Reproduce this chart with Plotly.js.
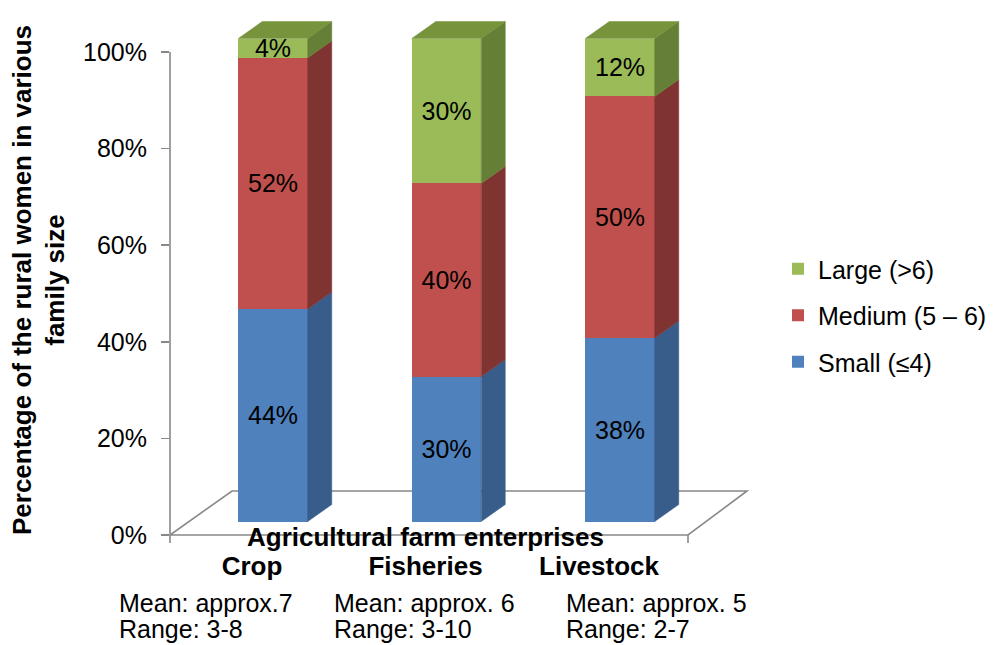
<!DOCTYPE html>
<html><head><meta charset="utf-8">
<script src="https://cdn.plot.ly/plotly-3.0.1.min.js"></script>
<style>html,body{margin:0;padding:0;background:#fff;} #chart{width:997px;height:645px;}</style>
</head><body><div id="chart"></div>
<script>
// ---- data ----
const categories = ['Crop', 'Fisheries', 'Livestock'];
const seriesNames = ['Small (≤4)', 'Medium (5 – 6)', 'Large (>6)'];
const small  = [44, 30, 38];
const medium = [52, 40, 50];
const large  = [4, 30, 12];
const meanLabels  = ['Mean: approx.7', 'Mean: approx. 6', 'Mean: approx. 5'];
const rangeLabels = ['Range: 3-8', 'Range: 3-10', 'Range: 2-7'];
const yTicks = [0, 20, 40, 60, 80, 100];
const xTitle = 'Agricultural farm enterprises';
const yTitle = 'Percentage of the rural women in various<br>family size';

// ---- geometry (pixels of the 997x645 canvas) ----
const W = 997, H = 645;
const PL = 170, PR = 755, PT = 15, PB = 545;
const xUnit = 173.5, cat0px = 273;
const pxPerPct = 4.83, front0px = 521.5, label0px = 535;
const xRange = [(PL - cat0px) / xUnit, (PR - cat0px) / xUnit];
const yRange = [(front0px - PB) / pxPerPct, (front0px - PT) / pxPerPct];
const y2Range = [(label0px - PB) / pxPerPct, (label0px - PT) / pxPerPct];
const barW = 69.5 / xUnit;
const dX = 24 / xUnit, dY = 17 / pxPerPct;
const pxX = p => (p - cat0px) / xUnit;       // canvas px -> x data
const pxY = p => (front0px - p) / pxPerPct;  // canvas px -> y data
const pxPaperX = p => (p - PL) / (PR - PL);
const pxPaperY = p => (PB - p) / (PB - PT);

const FONT = 'Liberation Sans, Arial, sans-serif';
const FS = 25;
const frontCol = ['#4F81BD', '#C0504D', '#9BBB59'];
const sideCol  = ['#385D8A', '#7F3432', '#657F36'];
const topCol   = '#77933C';
const gray = '#888888';
const legendRanks = [3, 2, 1];

const xs = categories.map((_, i) => i);
const seriesVals = [small, medium, large];

const traces = seriesVals.map((vals, k) => ({
  type: 'bar', x: xs, y: vals, width: barW, name: seriesNames[k],
  legendgroup: 'g' + k, legendrank: legendRanks[k],
  marker: {color: frontCol[k], line: {width: 0}},
  texttemplate: '%{y}%', textposition: 'inside', insidetextanchor: 'middle',
  constraintext: 'none', cliponaxis: false,
  textfont: {family: FONT, size: FS, color: '#000'},
  insidetextfont: {family: FONT, size: FS, color: '#000'},
  hoverinfo: 'skip'
}));

// side faces and top faces (3D look), derived from the data
xs.forEach(i => {
  let cum = 0;
  const xr = i + barW / 2, xl = i - barW / 2;
  seriesVals.forEach((vals, k) => {
    const b = cum, t = cum + vals[i];
    cum = t;
    traces.push({
      type: 'scatter', mode: 'lines', fill: 'toself', showlegend: false, hoverinfo: 'skip',
      x: [xr, xr + dX, xr + dX, xr, xr], y: [b, b + dY, t + dY, t, b],
      fillcolor: sideCol[k], line: {color: sideCol[k], width: 0.5}
    });
  });
  traces.push({
    type: 'scatter', mode: 'lines', fill: 'toself', showlegend: false, hoverinfo: 'skip',
    x: [xl, xl + dX, xr + dX, xr, xl], y: [cum, cum + dY, cum + dY, cum, cum],
    fillcolor: topCol, line: {color: topCol, width: 0.5}
  });
});

// floor outline
const fl = {fx0: pxX(170), fx1: pxX(688), bx0: pxX(232), bx1: pxX(747), fy: pxY(535), by: pxY(491)};
const shapes = [
  {type: 'path', xref: 'x', yref: 'y', layer: 'below',
   path: `M${fl.fx0},${fl.fy} L${fl.bx0},${fl.by} L${fl.bx1},${fl.by} L${fl.fx1},${fl.fy} Z`,
   line: {color: gray, width: 1.6}, fillcolor: 'rgba(0,0,0,0)'},
  {type: 'line', xref: 'paper', yref: 'y2', x0: 0, x1: 0, y0: (label0px - 543) / pxPerPct, y1: 100,
   line: {color: gray, width: 1.6}, layer: 'below'},
  {type: 'line', xref: 'x', yref: 'y', x0: fl.fx1, x1: fl.fx1, y0: fl.fy, y1: pxY(543),
   line: {color: gray, width: 1.6}, layer: 'below'}
];

const meanPx = [117, 332, 564];
const annotations = [
  {text: xTitle, xref: 'x', yref: 'y', x: pxX(425), y: pxY(537), showarrow: false,
   font: {family: FONT, size: 26, color: '#000', weight: 'bold'}, xanchor: 'center', yanchor: 'middle'}
];
xs.forEach(i => {
  annotations.push({
    text: meanLabels[i], xref: 'paper', yref: 'paper',
    x: pxPaperX(meanPx[i]), y: pxPaperY(603), xanchor: 'left', yanchor: 'middle', align: 'left',
    showarrow: false, font: {family: FONT, size: FS, color: '#000'}
  });
  annotations.push({
    text: rangeLabels[i], xref: 'paper', yref: 'paper',
    x: pxPaperX(meanPx[i]), y: pxPaperY(629), xanchor: 'left', yanchor: 'middle', align: 'left',
    showarrow: false, font: {family: FONT, size: FS, color: '#000'}
  });
});

const layout = {
  width: W, height: H,
  margin: {l: PL, r: W - PR, t: PT, b: H - PB, pad: 0, autoexpand: false},
  paper_bgcolor: '#fff', plot_bgcolor: 'rgba(0,0,0,0)',
  barmode: 'stack', showlegend: true,
  font: {family: FONT, size: FS, color: '#000'},
  xaxis: {range: xRange, tickvals: xs.map(i => i - 21 / xUnit), ticktext: categories,
          tickfont: {family: FONT, size: 26, color: '#000', weight: 'bold'},
          ticks: '', showgrid: false, zeroline: false, showline: false, ticklabelstandoff: 3,
          fixedrange: true, automargin: false},
  yaxis: {range: yRange, showticklabels: false, showgrid: false, zeroline: false, showline: false,
          ticks: '', fixedrange: true, automargin: false},
  yaxis2: {overlaying: 'y', anchor: 'x', side: 'left', range: y2Range,
           tickvals: yTicks, ticktext: yTicks.map(v => v + '%'),
           ticks: 'outside', ticklen: 8, tickwidth: 1.6, tickcolor: gray, ticklabelstandoff: 9,
           tickfont: {family: FONT, size: FS, color: '#000'},
           showgrid: false, zeroline: false, showline: false, fixedrange: true, automargin: false,
           title: {text: yTitle, font: {family: FONT, size: 26, color: '#000', weight: 'bold'}, standoff: 10}},
  legend: {x: pxPaperX(778), xanchor: 'left', y: pxPaperY(246), yanchor: 'top',
           traceorder: 'grouped', tracegroupgap: 11,
           font: {family: FONT, size: FS, color: '#000'}, bgcolor: 'rgba(0,0,0,0)'},
  shapes: shapes,
  annotations: annotations
};

Plotly.newPlot('chart', traces, layout, {displayModeBar: false, staticPlot: true});
</script>
</body></html>
